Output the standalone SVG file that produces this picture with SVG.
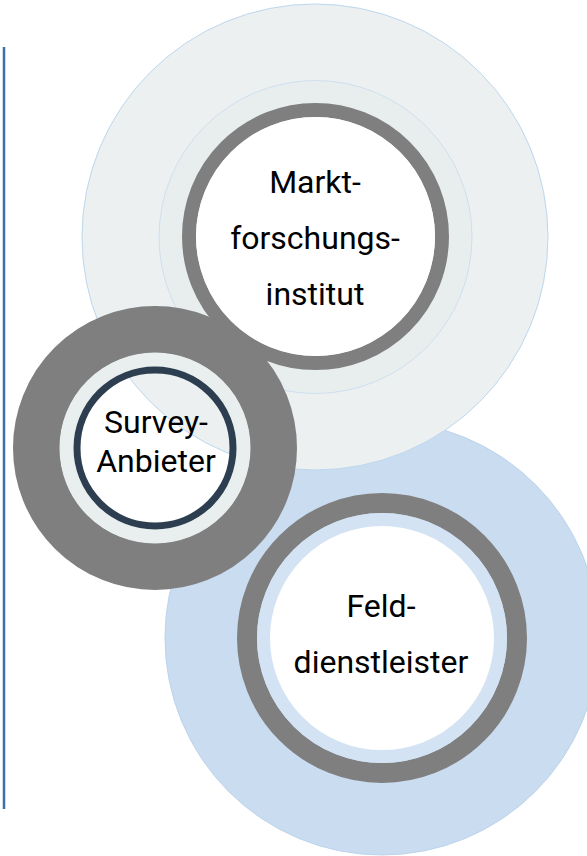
<svg xmlns="http://www.w3.org/2000/svg" width="587" height="856" viewBox="0 0 587 856">
<style>
.lbl{font-family:Roboto,"Liberation Sans",sans-serif;font-size:32px;fill:#000;text-anchor:middle}
.gray{fill:none;stroke:#7f7f7f}
</style>
<rect width="587" height="856" fill="#fff"/>
<line x1="4" y1="47" x2="4" y2="809" stroke="#3b6fae" stroke-width="2.5"/>
<g id="feld-outer">
<circle cx="382" cy="638" r="217" fill="#cadcf0" stroke="#bcd3ec" stroke-width="1"/>
</g>
<g id="markt">
<circle cx="315" cy="237" r="233" fill="#ecf0f1" stroke="#bdd7ee" stroke-width="1"/>
<circle cx="315.5" cy="237" r="156.5" fill="#e8eeee" stroke="#c6dbee" stroke-width="0.8"/>
<circle cx="315.5" cy="236.5" r="126.5" fill="#fff" class="gray" stroke-width="14"/>
<circle cx="315.5" cy="236.5" r="119.5" fill="#fff"/>
<text class="lbl" x="315" y="193">Markt-</text>
<text class="lbl" x="315" y="249">forschungs-</text>
<text class="lbl" x="315" y="305">institut</text>
</g>
<g id="feld">
<circle cx="382" cy="638" r="135" class="gray" stroke-width="20"/>
<circle cx="382" cy="638" r="118.5" fill="#fff" stroke="#d3e3f3" stroke-width="13"/>
<text class="lbl" x="381" y="617">Feld-</text>
<text class="lbl" x="381" y="673">dienstleister</text>
</g>
<g id="survey">
<circle cx="155" cy="448" r="118.5" class="gray" stroke-width="47"/>
<circle cx="155" cy="448" r="88.5" fill="none" stroke="#e9efee" stroke-width="14"/>
<circle cx="155" cy="448" r="78" fill="none" stroke="#2c3e50" stroke-width="7"/>
<text class="lbl" x="156" y="433">Survey-</text>
<text class="lbl" x="156" y="472">Anbieter</text>
</g>
</svg>
